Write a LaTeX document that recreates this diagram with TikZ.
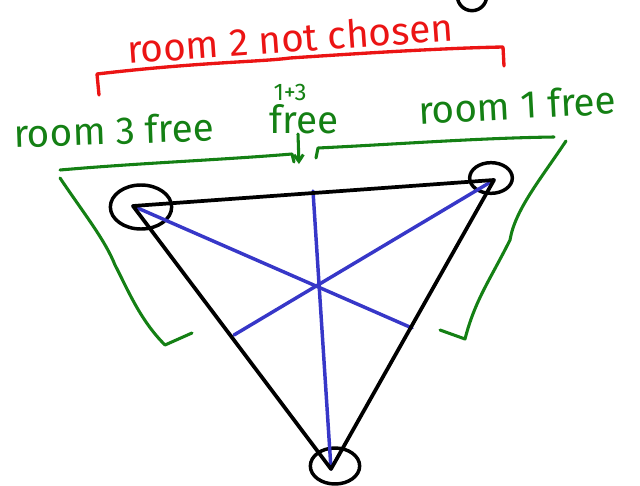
\documentclass[tikz,border=0pt]{standalone}
\usepackage{fontspec}
\setmainfont{Fira Sans}
\usetikzlibrary{arrows.meta,shapes.geometric}
\definecolor{pgreen}{RGB}{20,128,20}
\definecolor{pred}{RGB}{235,20,20}
\definecolor{pblue}{RGB}{55,55,200}
\begin{document}
\begin{tikzpicture}[x=0.75pt,y=-0.75pt,
  blk/.style={draw=black,line width=2.8pt,line cap=round,line join=round},
  blu/.style={draw=pblue,line width=2.6pt,line cap=round},
  grn/.style={draw=pgreen,line width=2.3pt,line cap=round,line join=round},
  rd/.style={draw=pred,line width=2.5pt,line cap=round,line join=round},
  ring/.style={ellipse,draw=black,line width=2.6pt,inner sep=0pt},
  gtext/.style={text=pgreen,font=\fontsize{29}{31}\selectfont,inner sep=0pt},
  rtext/.style={text=pred,font=\fontsize{29}{31}\selectfont,inner sep=0pt}]
\useasboundingbox (0,0) rectangle (640,486);
% vertices
\coordinate (A) at (133,206);
\coordinate (B) at (494,180);
\coordinate (C) at (331,469);
% rings
\node[ring,minimum width=46pt,minimum height=33pt] (rA) at (141,207) {};
\node[ring,minimum width=32pt,minimum height=23pt] (rB) at (491,178) {};
\node[ring,minimum width=37pt,minimum height=27pt] (rC) at (335,466) {};
\node[ring,minimum width=22pt,minimum height=22pt] (rT) at (472,-4) {};
% blue lines
\coordinate (mBC) at (412,328);
\coordinate (mAC) at (234,335);
\coordinate (mAB) at (313,191);
\draw[blu] (A) -- (mBC);
\draw[blu] (B) -- (mAC);
\draw[blu] (C) -- (mAB);
% triangle
\draw[blk] (A) -- (B) -- (C) -- cycle;
% red bracket
\coordinate (r1) at (99,95);
\coordinate (r2) at (97,74);
\coordinate (r3) at (503,47);
\coordinate (r4) at (504,66);
\draw[rd] (r1) -- (r2) .. controls (200,62) and (260,62) .. (290,58)
  .. controls (380,52) and (450,48) .. (r3) -- (r4);
\node[rtext,rotate=4] (t2) at (290,38) {room 2 not chosen};
% green texts
\node[gtext,rotate=2] (t3) at (114,130) {room 3 free};
\node[gtext,font=\fontsize{18}{19}\selectfont] (t13) at (290,92) {1+3};
\node[gtext] (tf) at (304,119) {free};
\node[gtext,rotate=3,anchor=west] (t1) at (418,110) {room 1 free};
% green arrow
\coordinate (a1) at (298,134);
\coordinate (a2) at (299,164);
\draw[grn,-{Straight Barb[length=5pt,width=7pt]}] (a1) -- (a2);
% left green bracket
\coordinate (g1) at (60,170);
\coordinate (g2) at (292,154);
\draw[grn] (g1) .. controls (140,163) and (220,160) .. (g2) -- (294,162);
\draw[grn] (60,178) .. controls (85,215) and (105,240) .. (115,265)
  .. controls (128,290) and (140,320) .. (165,345) -- (192,333);
% right green bracket
\coordinate (g3) at (318,148);
\coordinate (g4) at (554,137);
\draw[grn] (316,158) -- (g3) .. controls (400,144) and (480,138) .. (g4);
\draw[grn] (566,141) .. controls (540,180) and (515,210) .. (510,240)
  .. controls (490,280) and (475,300) .. (465,339) -- (440,330);
\end{tikzpicture}
\end{document}
